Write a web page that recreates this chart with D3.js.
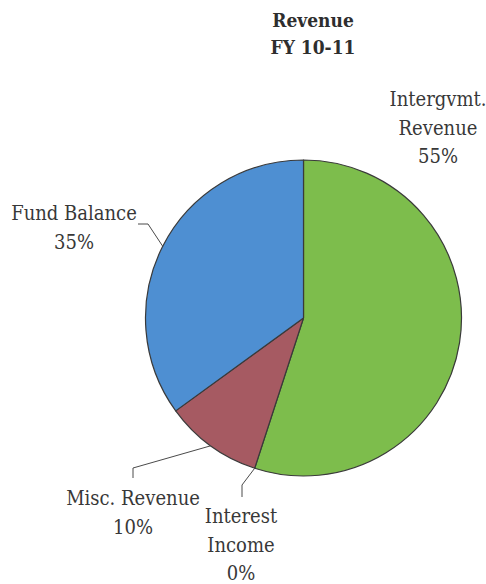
<!DOCTYPE html>
<html>
<head>
<meta charset="utf-8">
<script src="https://cdn.jsdelivr.net/npm/d3@7"></script>
<style>
  html, body { margin: 0; padding: 0; background: #ffffff; }
  svg { display: block; }
</style>
</head>
<body>
<svg id="chart" width="486" height="584"></svg>
<script>
// Revenue sources, FY 10-11 (percent of total)
const categories = ["Intergvmt. Revenue", "Interest Income", "Misc. Revenue", "Fund Balance"];
const values = [55, 0, 10, 35];
const labelLines = [["Intergvmt.", "Revenue", "55%"], ["Interest", "Income", "0%"], ["Misc. Revenue", "10%"], ["Fund Balance", "35%"]];
const titleLines = ["Revenue", "FY 10-11"];

const colors = d3.scaleOrdinal()
  .domain(categories)
  .range(["#7dbd4c", "#c9c9c9", "#a65a62", "#4e8fd2"]);

const serif = "DejaVu Serif Condensed, DejaVu Serif, serif";

// Label placement: text centre, first baseline, and the leader's bend points
const layout = [
  { x: 438, y: 106, leader: null },
  { x: 241, y: 523, leader: [[242, 485], [242, 497]] },
  { x: 133, y: 505, leader: [[133, 468], [133, 478]] },
  { x: 74,  y: 220, leader: [[148, 224], [138, 224]] }
];

const svg = d3.select("#chart");
const cx = 303.5, cy = 318, r = 158;
const lineH = 28.5;

// Title
svg.append("text")
  .attr("x", 313).attr("y", 27)
  .attr("text-anchor", "middle")
  .style("font-family", serif)
  .style("font-stretch", "condensed")
  .attr("font-weight", "bold").attr("font-size", 19).attr("fill", "#2e2e2e")
  .selectAll("tspan").data(titleLines).join("tspan")
  .attr("x", 313).attr("dy", (d, i) => i === 0 ? 0 : 26.5)
  .text(d => d);

const pie = d3.pie().sort(null).value(d => d.value);
const arcs = pie(categories.map((c, i) => ({ name: c, value: values[i] })));

const arc = d3.arc().innerRadius(0).outerRadius(r);

const g = svg.append("g").attr("transform", `translate(${cx},${cy})`);

g.selectAll("path.slice")
  .data(arcs.filter(a => a.data.value > 0))
  .join("path")
  .attr("class", "slice")
  .attr("d", arc)
  .attr("fill", d => colors(d.data.name))
  .attr("stroke", "#3a3a3a")
  .attr("stroke-width", 1.2)
  .attr("stroke-linejoin", "round");

// Leader lines from each slice's outer edge to its label
arcs.forEach((a, i) => {
  const lay = layout[i];
  if (!lay.leader) return;
  const mid = (a.startAngle + a.endAngle) / 2;
  const p0 = [cx + r * Math.sin(mid), cy - r * Math.cos(mid)];
  const pts = [p0].concat(lay.leader);
  svg.append("path")
    .attr("d", d3.line()(pts))
    .attr("fill", "none")
    .attr("stroke", "#4a4a4a")
    .attr("stroke-width", 1);
});

// Slice labels
arcs.forEach((a, i) => {
  const lay = layout[i];
  svg.append("text")
    .attr("text-anchor", "middle")
    .attr("x", lay.x).attr("y", lay.y)
    .style("font-family", serif)
    .style("font-stretch", "condensed")
    .attr("font-size", 20)
    .attr("fill", "#383838")
    .selectAll("tspan").data(labelLines[i]).join("tspan")
    .attr("x", lay.x).attr("dy", (d, j) => j === 0 ? 0 : lineH)
    .text(d => d);
});
</script>
</body>
</html>
